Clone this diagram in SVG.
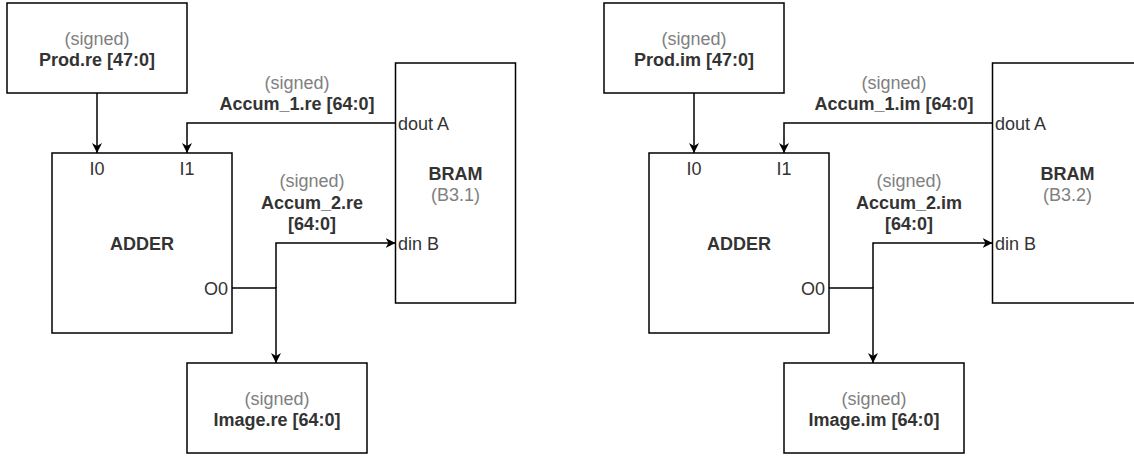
<svg xmlns="http://www.w3.org/2000/svg" width="1134" height="456" viewBox="0 0 1134 456">
<defs>
<marker id="arr" viewBox="0 0 10 10" refX="10" refY="5" markerWidth="10" markerHeight="10" markerUnits="userSpaceOnUse" orient="auto">
<path d="M0,0 L10,5 L0,10 L3,5 Z" fill="#000"/>
</marker>
<style>
.box{fill:#fff;stroke:#000;stroke-width:1.5}
.wire{fill:none;stroke:#000;stroke-width:1.5}
text{font-family:"Liberation Sans",Arial,sans-serif;font-size:18px}
.sg{fill:#808080;text-anchor:middle}
.b{fill:#333;font-weight:bold;text-anchor:middle}
.p{fill:#333}
.m{text-anchor:middle}
.e{text-anchor:end}
</style>
</defs>
<rect width="1134" height="456" fill="#fff"/>

<g id="connectors">
<path class="wire" d="M97,93 V153" marker-end="url(#arr)"/>
<path class="wire" d="M395.5,123 H187 V153" marker-end="url(#arr)"/>
<path class="wire" d="M232,288 H276 V363" marker-end="url(#arr)"/>
<path class="wire" d="M276,288 V243 H395.5" marker-end="url(#arr)"/>
<path class="wire" d="M694,93 V153" marker-end="url(#arr)"/>
<path class="wire" d="M992.5,123 H784 V153" marker-end="url(#arr)"/>
<path class="wire" d="M829,288 H873 V363" marker-end="url(#arr)"/>
<path class="wire" d="M873,288 V243 H992.5" marker-end="url(#arr)"/>
</g>

<g id="labels">
<text class="sg" x="297" y="88.5">(signed)</text>
<text class="b" x="297" y="110">Accum_1.re [64:0]</text>
<text class="sg" x="312" y="187">(signed)</text>
<text class="b" x="312" y="208.6">Accum_2.re</text>
<text class="b" x="312" y="230.2">[64:0]</text>
<text class="sg" x="894" y="88.5">(signed)</text>
<text class="b" x="894" y="110">Accum_1.im [64:0]</text>
<text class="sg" x="909" y="187">(signed)</text>
<text class="b" x="909" y="208.6">Accum_2.im</text>
<text class="b" x="909" y="230.2">[64:0]</text>
</g>

<g id="prod-re">
<rect class="box" x="7" y="3" width="180" height="90"/>
<text class="sg" x="97" y="44.5">(signed)</text>
<text class="b" x="97" y="66">Prod.re [47:0]</text>
</g>
<g id="adder-re">
<rect class="box" x="52" y="153" width="180" height="180"/>
<text class="p m" x="97" y="175">I0</text>
<text class="p m" x="187" y="175">I1</text>
<text class="b" x="142" y="249.5">ADDER</text>
<text class="p e" x="228" y="295">O0</text>
</g>
<g id="bram-re">
<rect class="box" x="395.5" y="63" width="120" height="240"/>
<text class="p" x="398" y="129.5">dout A</text>
<text class="p" x="398" y="249.5">din B</text>
<text class="b" x="455.5" y="179.5">BRAM</text>
<text class="sg" x="455.5" y="201">(B3.1)</text>
</g>
<g id="image-re">
<rect class="box" x="187" y="363" width="180" height="90"/>
<text class="sg" x="277" y="404.5">(signed)</text>
<text class="b" x="277" y="426">Image.re [64:0]</text>
</g>

<g id="prod-im">
<rect class="box" x="604" y="3" width="180" height="90"/>
<text class="sg" x="694" y="44.5">(signed)</text>
<text class="b" x="694" y="66">Prod.im [47:0]</text>
</g>
<g id="adder-im">
<rect class="box" x="649" y="153" width="180" height="180"/>
<text class="p m" x="694" y="175">I0</text>
<text class="p m" x="784" y="175">I1</text>
<text class="b" x="739" y="249.5">ADDER</text>
<text class="p e" x="825" y="295">O0</text>
</g>
<g id="bram-im">
<rect class="box" x="992.5" y="63" width="150" height="240"/>
<text class="p" x="995" y="129.5">dout A</text>
<text class="p" x="995" y="249.5">din B</text>
<text class="b" x="1067.5" y="179.5">BRAM</text>
<text class="sg" x="1067.5" y="201">(B3.2)</text>
</g>
<g id="image-im">
<rect class="box" x="784" y="363" width="180" height="90"/>
<text class="sg" x="874" y="404.5">(signed)</text>
<text class="b" x="874" y="426">Image.im [64:0]</text>
</g>
</svg>
